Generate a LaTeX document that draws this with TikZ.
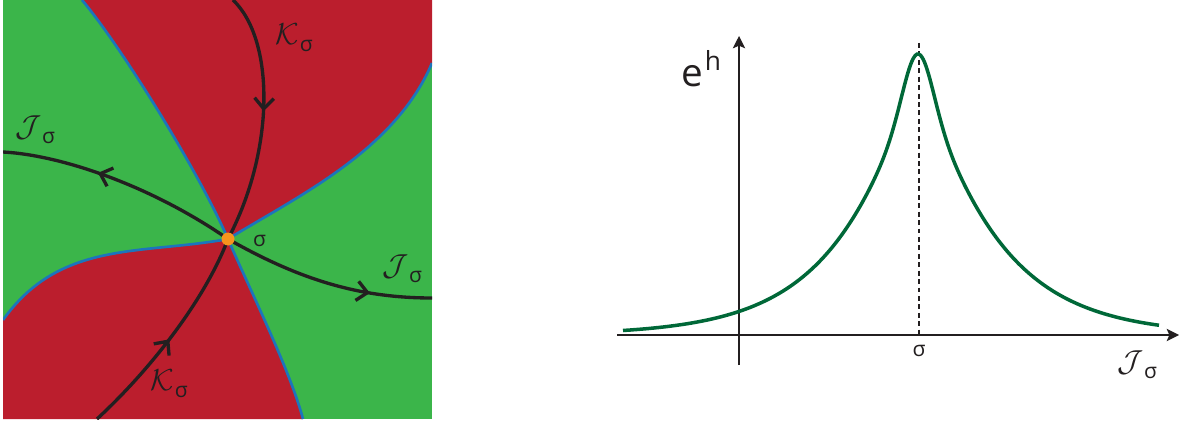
\documentclass[tikz,border=0pt]{standalone}
\usepackage{fontspec}
\newfontfamily\gsans{Open Sans}
\usetikzlibrary{arrows.meta,decorations.markings}
\definecolor{regred}{HTML}{BB1E2D}
\definecolor{reggreen}{HTML}{3BB54A}
\definecolor{bndblue}{HTML}{1C75BC}
\definecolor{dotorange}{HTML}{F7941D}
\definecolor{curvegreen}{HTML}{006838}
\definecolor{inkblack}{HTML}{231F20}
\newcommand\sig{{\gsans\fontsize{12}{12}\selectfont σ}}
\newcommand\flowlab[1]{{\fontsize{18}{18}\selectfont$\mathcal{#1}$}\kern0.5pt\raisebox{-4pt}{\sig}}
\tikzset{
  flow/.style={draw=inkblack, line width=1.9pt},
  bnd/.style={draw=bndblue, line width=1.5pt},
  midarrow/.style={postaction={decorate}, decoration={markings,
     mark=at position #1 with {\arrow[inkblack,line width=1.9pt]{Straight Barb[length=6pt,width=11pt]}}}},
  axisline/.style={draw=inkblack, line width=0.8pt},
  lab/.style={inner sep=0pt, text=inkblack},
}
\begin{document}
\begin{tikzpicture}[x=0.02cm,y=-0.02cm]
\useasboundingbox (0,0) rectangle (1179,422);
% ---------- left panel ----------
\coordinate (sig) at (228,239);
\coordinate (b1) at (82,0);
\coordinate (b2) at (432,63);
\coordinate (b3) at (3,320);
\coordinate (b4) at (303,419);
\coordinate (kt) at (233,0);
\coordinate (kb) at (97,419);
\coordinate (jl) at (3,152);
\coordinate (jr) at (432,298);
\begin{scope}
\clip (3,0) rectangle (432,419);
\fill[reggreen] (3,0) rectangle (432,419);
\fill[regred] (b1) .. controls (120,45) and (198,170) .. (sig) .. controls (300,195) and (395,150) .. (b2) -- (432,0) -- cycle;
\fill[regred] (b3) .. controls (60,240) and (140,255) .. (sig) .. controls (250,290) and (290,370) .. (b4) -- (3,419) -- cycle;
\draw[bnd] (b1) .. controls (120,45) and (198,170) .. (sig);
\draw[bnd] (sig) .. controls (300,195) and (395,150) .. (b2);
\draw[bnd] (b3) .. controls (60,240) and (140,255) .. (sig);
\draw[bnd] (sig) .. controls (250,290) and (290,370) .. (b4);
\draw[flow, midarrow=0.47] (kt) .. controls (275,40) and (275,150) .. (sig);
\draw[flow, midarrow=0.48] (kb) .. controls (150,370) and (205,300) .. (sig);
\draw[flow, midarrow=0.6] (sig) .. controls (150,185) and (60,155) .. (jl);
\draw[flow, midarrow=0.71] (sig) .. controls (300,280) and (360,298) .. (jr);
\end{scope}
\fill[dotorange] (sig) circle (6.5);
\node[lab] (Kup) at (294,38) {\flowlab{K}};
\node[lab] (Kdn) at (169,384) {\flowlab{K}};
\node[lab] (Jl) at (35,130) {\flowlab{J}};
\node[lab] (Jr) at (402,269) {\flowlab{J}};
\node[lab] (sl) at (259.5,241) {\sig};
% ---------- right panel ----------
\coordinate (xs) at (617,335);
\coordinate (xe) at (1179,335);
\coordinate (ys) at (739,365);
\coordinate (ye) at (739,36);
\coordinate (pk) at (919,43);
\coordinate (pb) at (919,335);
\draw[inkblack, line width=0.6pt, dash pattern=on 2.8pt off 2pt] (pk) -- (pb);
\draw[axisline, -{Stealth[length=7pt,width=7pt,inset=1.5pt]}] (xs) -- (xe);
\draw[axisline, -{Stealth[length=7pt,width=7pt,inset=1.5pt]}] (ys) -- (ye);
\draw[curvegreen, line width=2pt] plot[domain=623:1159, samples=300, smooth]
  (\x, {335 - 281*(0.174*exp(-25*((\x-918)/100)^2) + 0.826*exp(-(100*sqrt(((\x-918)/100)^2+0.04)-20)/70))});
\node[lab] (sa) at (919,351) {\sig};
\node[lab] (Ja) at (1137,365) {\flowlab{J}};
\node[lab, anchor=base west] (eh) at (681,87) {\gsans\fontsize{22}{22}\selectfont e\kern1pt\raisebox{9.6pt}{\fontsize{15}{15}\selectfont h}};
\end{tikzpicture}
\end{document}
